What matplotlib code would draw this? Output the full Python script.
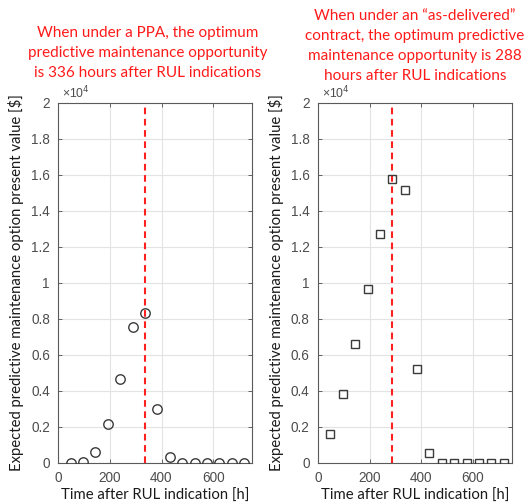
import matplotlib
matplotlib.use("Agg")
import matplotlib.pyplot as plt
from matplotlib.ticker import FuncFormatter, MultipleLocator

hours = [48, 96, 144, 192, 240, 288, 336, 384, 432, 480, 528, 576, 624, 672, 720]
ppa_values = [0, 60, 600, 2170, 4650, 7560, 8330, 2980, 330, 0, 0, 0, 0, 0, 0]
asdel_values = [1570, 3800, 6580, 9630, 12680, 15740, 15130, 5190, 540, 0, 0, 0, 0, 0, 0]
ppa_opt = 336
asdel_opt = 288

title_left = "When under a PPA, the optimum\npredictive maintenance opportunity\nis 336 hours after RUL indications"
title_right = "When under an \u201cas-delivered\u201d\ncontract, the optimum predictive\nmaintenance opportunity is 288\nhours after RUL indications"
ylabel = "Expected predictive maintenance option present value [$]"
xlabel = "Time after RUL indication [h]"

W, H = 527, 504
fig = plt.figure(figsize=(W / 100, H / 100), dpi=100)

label_font = "Lato"
tick_font = "Liberation Sans"
tick_color = "#4d4d4d"

def make_axes(x0, marker, values, opt, title, title_x, title_top):
    ax = fig.add_axes([x0 / W, (H - 462.7) / H, 193.5 / W, 360 / H])
    ax.plot(hours, values, linestyle="none", marker=marker,
            markerfacecolor="none", markeredgecolor="#3a3a3a",
            markeredgewidth=1.0, markersize=6.8 if marker == "o" else 5.2,
            zorder=3)
    ax.axvline(opt, color="#ff2020", linestyle=(0, (3.2, 2.2)), linewidth=1.5, zorder=2)
    ax.set_xlim(0, 750)
    ax.set_ylim(0, 20000)
    ax.xaxis.set_major_locator(MultipleLocator(200))
    ax.yaxis.set_major_locator(MultipleLocator(2000))
    ax.yaxis.set_major_formatter(FuncFormatter(lambda v, p: "%g" % round(v / 1e4, 2)))
    ax.grid(True, color="#e3e3e3", linewidth=0.8, zorder=0)
    ax.tick_params(direction="in", length=3, width=0.6, colors=tick_color,
                   top=True, right=True, labelsize=9.8, pad=6)
    for lab in ax.get_xticklabels() + ax.get_yticklabels():
        lab.set_fontfamily(tick_font)
    for s in ax.spines.values():
        s.set_color("#5a5a5a")
        s.set_linewidth(0.8)
    ax.set_ylabel(ylabel, fontsize=10.7, family=label_font, color="#1a1a1a", labelpad=5)
    ax.set_xlabel(xlabel, fontsize=10.7, family=label_font, color="#1a1a1a", labelpad=3)
    ax.text(0.02, 1.005, "\u00d710$^{4}$", transform=ax.transAxes, fontsize=8.8,
            family=tick_font, color=tick_color, ha="left", va="bottom")
    fig.text(title_x / W, 1 - title_top / H, title, color="#ff1a1a", fontsize=11,
             family=label_font, ha="center", va="top", linespacing=1.55)
    return ax

make_axes(58.3, "o", ppa_values, ppa_opt, title_left, 148, 26)
make_axes(318, "s", asdel_values, asdel_opt, title_right, 415, 9)

fig.savefig("out.png", dpi=100)
